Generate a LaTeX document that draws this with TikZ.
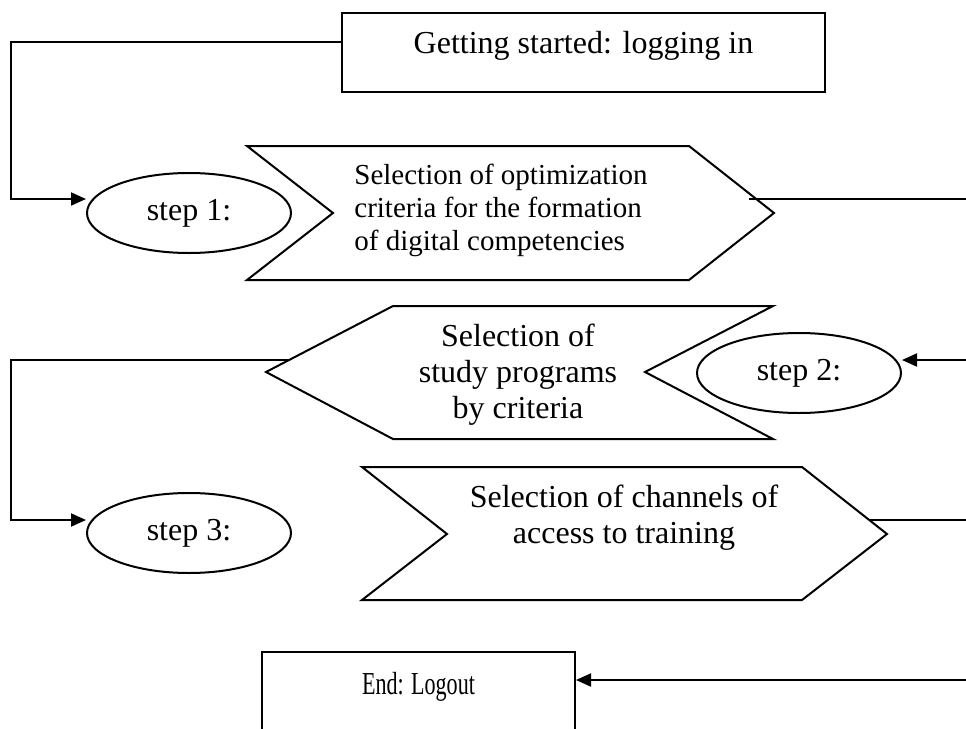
\documentclass[tikz,border=0pt]{standalone}
\usepackage{fontspec}
\usepackage{graphicx}
\setmainfont{Liberation Serif}
\usetikzlibrary{arrows.meta,shapes.geometric}
\begin{document}
\begin{tikzpicture}[x=0.5pt,y=-0.5pt,
  every node/.style={font=\fontsize{16}{18}\selectfont},
  boxstyle/.style={draw,line width=1pt,rectangle,inner sep=0pt},
  stepoval/.style={draw,line width=1pt,ellipse,minimum width=102pt,minimum height=40pt,inner sep=0pt},
  chev/.style={draw,line width=1pt,line join=miter},
  txt/.style={inner sep=0pt},
  conn/.style={line width=1pt},
  arr/.style={line width=1pt,-{Triangle[length=7.5pt,width=6.5pt]}}]
\useasboundingbox (0,0) rectangle (966,729);
\fill[white] (0,0) rectangle (966,729);
% start box
\node[boxstyle,minimum width=241.5pt,minimum height=39.5pt] (start) at (583.5,52.5) {};
\node[txt,anchor=base] (starttext) at (583.5,53) {Getting started: logging in};
% chevron 1
\draw[chev] (247,146) -- (689,146) -- (774,213) -- (689,280) -- (247,280) -- (333,213) -- cycle;
\node[txt,anchor=west,align=left,font=\fontsize{14.5}{16.5}\selectfont] (c1) at (354,210.5)
  {Selection of optimization\\criteria for the formation\\of digital competencies};
\coordinate (c1out) at (749,199);
% step 1
\node[stepoval] (s1) at (189,213) {step 1:\hspace{9pt}};
% chevron 2
\draw[chev] (393,306) -- (773,306) -- (645,372) -- (773,439) -- (393,439) -- (266,372) -- cycle;
\node[txt,align=center] (c2) at (518,375) {Selection of\\study programs\\by criteria};
\coordinate (c2out) at (290,360);
% step 2
\node[stepoval] (s2) at (799,373) {step 2:\hspace{9pt}};
% chevron 3
\draw[chev] (362,467) -- (802,467) -- (887,534) -- (802,600) -- (362,600) -- (447,534) -- cycle;
\node[txt,align=center] (c3) at (624,517.5) {Selection of channels of\\access to training};
\coordinate (c3out) at (869,520);
% step 3
\node[stepoval] (s3) at (189,533) {step 3:\hspace{9pt}};
% end box
\node[boxstyle,minimum width=156.5pt,minimum height=54pt] (endbox) at (418.5,706) {};
\node[txt,anchor=base] (endtext) at (418.5,694) {\scalebox{0.69}[1]{End: Logout}};
% right edge coordinates
\coordinate (r1) at (966,199);
\coordinate (r2) at (966,360);
\coordinate (r3) at (966,520);
\coordinate (r4) at (966,680);
% connectors
\draw[arr] (start.west |- 0,42) -- (11,42) -- (11,199) -- (s1.west |- 0,199);
\draw[conn] (c1out) -- (r1);
\draw[arr] (r2) -- (s2.east |- 0,360);
\draw[arr] (c2out) -- (11,360) -- (11,520) -- (s3.west |- 0,520);
\draw[conn] (c3out) -- (r3);
\draw[arr] (r4) -- (endbox.east |- 0,680);
\end{tikzpicture}
\end{document}
